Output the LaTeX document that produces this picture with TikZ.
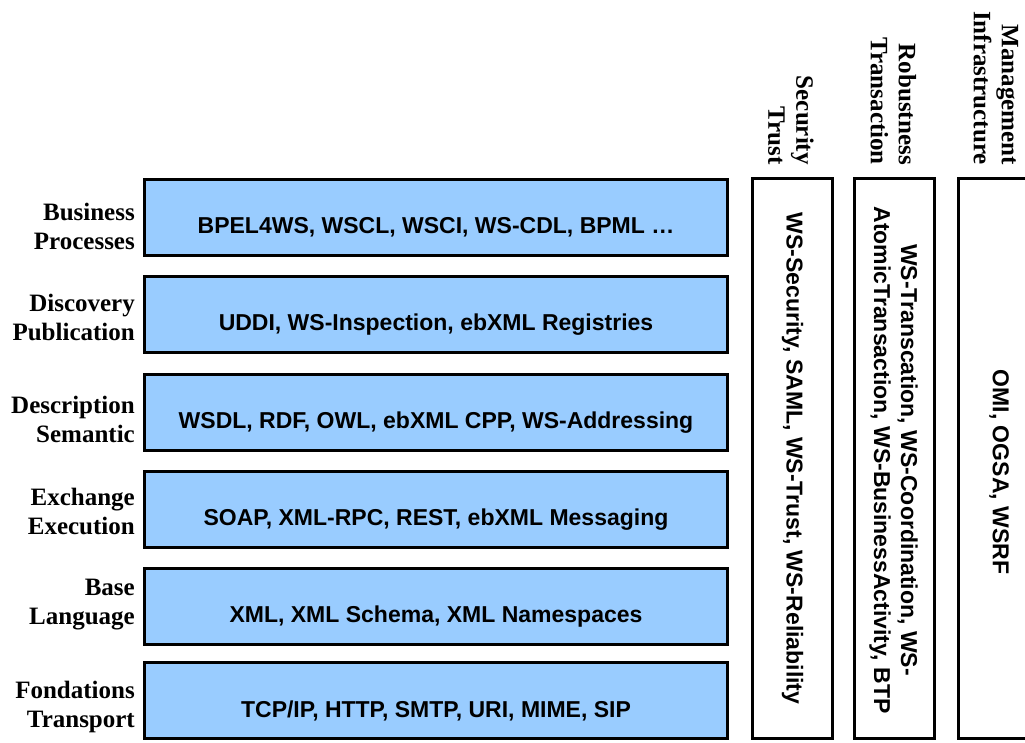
\documentclass[tikz,border=0pt]{standalone}
\usepackage{fontspec}
\setmainfont{Liberation Serif}
\newfontfamily\arialfont{Liberation Sans}
\definecolor{layerblue}{RGB}{153,204,255}
\tikzset{
  layer/.style={draw=black, line width=3pt, fill=layerblue, minimum width=583pt, minimum height=76pt, inner sep=0pt},
  layertext/.style={inner sep=0pt, yshift=-10pt, font=\arialfont\bfseries\fontsize{23}{27}\selectfont},
  pillar/.style={draw=black, line width=3pt, fill=white, minimum width=80pt, minimum height=560pt, inner sep=0pt},
  pillartext/.style={rotate=-90, align=center, inner sep=0pt, font=\arialfont\bfseries\fontsize{23}{27}\selectfont},
  leftlabel/.style={anchor=east, align=right, inner sep=0pt, font=\bfseries\fontsize{25}{29}\selectfont},
  headlabel/.style={rotate=-90, anchor=east, align=right, inner sep=0pt, font=\bfseries\fontsize{25}{28}\selectfont}
}
\begin{document}
\begin{tikzpicture}[x=1pt,y=1pt]
\useasboundingbox (0,0) rectangle (1025,742);
\clip (0,0) rectangle (1025,742);
% layers (y = 742 - pixel y)
\node[layer] (l1) at (436,524.5) {};
\node[layer] (l2) at (436,427.5) {};
\node[layer] (l3) at (436,329.5) {};
\node[layer] (l4) at (436,232.5) {};
\node[layer] (l5) at (436,135.5) {};
\node[layer] (l6) at (436,41.5) {};
\node[layertext] (x1) at (l1.center) {BPEL4WS, WSCL, WSCI, WS-CDL, BPML …};
\node[layertext] (x2) at (l2.center) {UDDI, WS-Inspection, ebXML Registries};
\node[layertext] (x3) at (l3.center) {WSDL, RDF, OWL, ebXML CPP, WS-Addressing};
\node[layertext] (x4) at (l4.center) {SOAP, XML-RPC, REST, ebXML Messaging};
\node[layertext] (x5) at (l5.center) {XML, XML Schema, XML Namespaces};
\node[layertext] (x6) at (l6.center) {TCP/IP, HTTP, SMTP, URI, MIME, SIP};
% left labels
\node[leftlabel] (t1) at (135,515.5) {Business\\Processes};
\node[leftlabel] (t2) at (135,424.5) {Discovery\\Publication};
\node[leftlabel] (t3) at (135,322.5) {Description\\Semantic};
\node[leftlabel] (t4) at (135,230.5) {Exchange\\Execution};
\node[leftlabel] (t5) at (135,137.5) {Base\\Language};
\node[leftlabel] (t6) at (135,35.5) {Fondations\\Transport};
% pillars
\node[pillar] (p1) at (792.5,283.5) {};
\node[pillar] (p2) at (894,283.5) {};
\node[pillar] (p3) at (998,283.5) {};
\node[pillartext] (q1) at (p1.center) {WS-Security, SAML, WS-Trust, WS-Reliability};
\node[pillartext] (q2) at (893.5,282) {WS-Transcation, WS-Coordination, WS-\\AtomicTransaction, WS-BusinessActivity, BTP};
\node[pillartext] (q3) at (999,270) {OMI, OGSA, WSRF};
% headers
\node[headlabel] (h1) at (791,577) {Security\\Trust};
\node[headlabel] (h2) at (893.5,577) {Robustness\\Transaction};
\node[headlabel] (h3) at (996,577) {Management\\Infrastructure};
\end{tikzpicture}
\end{document}
